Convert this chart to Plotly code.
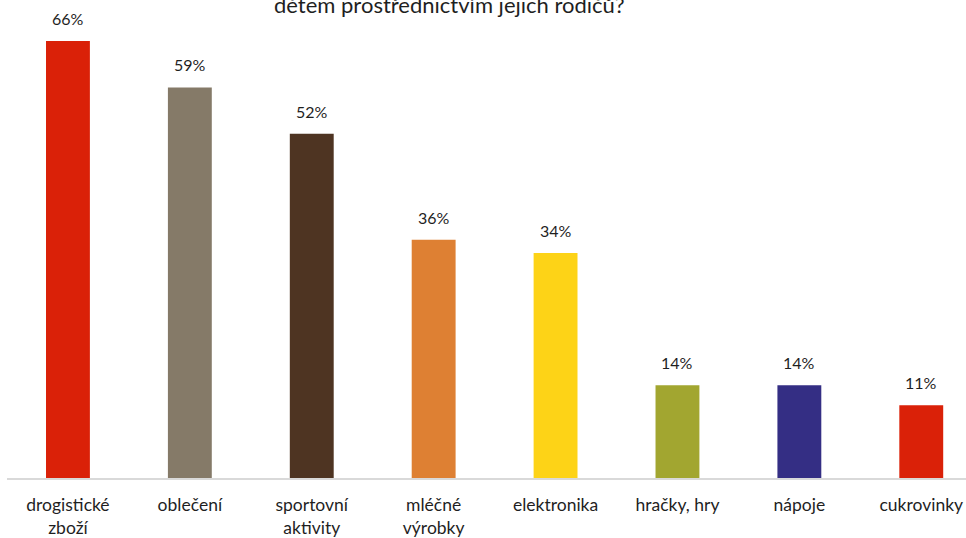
import plotly.graph_objects as go

categories = ["drogistické<br>zboží", "oblečení", "sportovní<br>aktivity", "mléčné<br>výrobky",
              "elektronika", "hračky, hry", "nápoje", "cukrovinky"]
values = [0.66, 0.59, 0.52, 0.36, 0.34, 0.14, 0.14, 0.11]
colors = ["#DA2108", "#857A68", "#4E3422", "#DE8033", "#FDD317", "#A2A630", "#342E84", "#DA2108"]
title_text = "dětem prostřednictvím jejich rodičů?"

FONT = "Lato, 'Open Sans', sans-serif"

fig = go.Figure(go.Bar(
    x=categories, y=values, marker=dict(color=colors, line=dict(width=0)),
    width=0.36, hoverinfo="skip",
))

for c, v in zip(categories, values):
    fig.add_annotation(x=c, y=v, text=f"{round(v*100)}%", showarrow=False,
                       yanchor="bottom", yshift=11,
                       font=dict(family=FONT, size=16, color="#1F1F1F"))

fig.add_annotation(xref="paper", yref="paper", x=0.461, y=1, yshift=-4,
                   text=title_text, showarrow=False, xanchor="center", yanchor="middle",
                   font=dict(family=FONT, size=22, color="#1F1F1F"))

fig.update_layout(
    width=966, height=538,
    margin=dict(l=7, r=0, t=0, b=58),
    paper_bgcolor="white", plot_bgcolor="white",
    showlegend=False,
    xaxis=dict(type="category", range=[-0.5, 7.367], showgrid=False,
               showline=True, linecolor="#D9D9D9", linewidth=2,
               ticks="", ticklabelstandoff=10,
               tickfont=dict(family=FONT, size=17.5, color="#1F1F1F")),
    yaxis=dict(range=[0, 0.722], visible=False, showgrid=False, zeroline=False),
)

fig.write_html("out.html")
